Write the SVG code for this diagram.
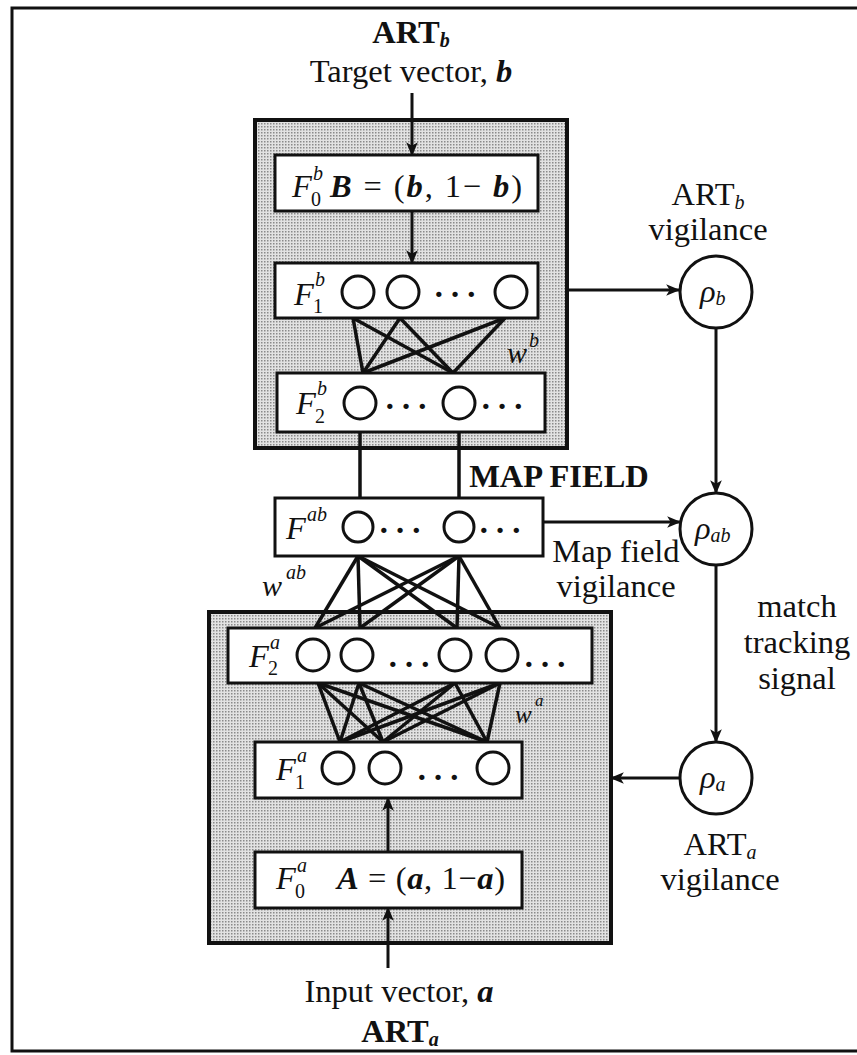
<svg xmlns="http://www.w3.org/2000/svg" width="857" height="1055" viewBox="0 0 857 1055">
<defs>
<marker id="ah" markerUnits="userSpaceOnUse" markerWidth="14" markerHeight="14" viewBox="0 0 12 12" refX="11" refY="6" orient="auto">
<path d="M0,1 L12,6 L0,11 L3,6 z" fill="#111"/>
</marker>
<pattern id="dots" width="3" height="3" patternUnits="userSpaceOnUse">
<rect width="3" height="3" fill="#e2e2e2"/>
<rect width="1.5" height="1.5" fill="#8a8a8a"/>
</pattern>
</defs>
<style>
text{font-family:"Liberation Serif","Times New Roman",serif;fill:#111;}
.t{font-size:32.5px;}
.b{font-weight:bold;}
.i{font-style:italic;}
.bi{font-style:italic;font-weight:bold;}
.s{font-size:20px;}
.box{fill:#fff;stroke:#111;stroke-width:3;}
.gray{fill:url(#dots);stroke:#111;stroke-width:4;}
.node{fill:#fff;stroke:#111;stroke-width:3;}
.con{stroke:#111;stroke-width:3.5;fill:none;}
.arr{stroke:#111;stroke-width:3;fill:none;marker-end:url(#ah);}
</style>
<rect x="0" y="0" width="857" height="1055" fill="#fff"/>
<path d="M857,8 H12 V1051 H857" fill="none" stroke="#111" stroke-width="3"/>

<g id="artb-module"><rect class="gray" x="255" y="120" width="312" height="328"/></g>
<g id="arta-module"><rect class="gray" x="209" y="612" width="402" height="331"/></g>

<g id="connectors">
<line class="arr" x1="412" y1="93" x2="412" y2="155"/>
<line class="arr" x1="412" y1="211" x2="412" y2="263"/>
<line class="arr" x1="567" y1="290" x2="679" y2="290"/>
<line class="arr" x1="716" y1="328" x2="716" y2="493"/>
<line class="arr" x1="543" y1="522" x2="680" y2="522"/>
<line class="arr" x1="716" y1="565" x2="716" y2="742"/>
<line class="arr" x1="680" y1="778" x2="611" y2="778"/>
<line class="arr" x1="388" y1="968" x2="388" y2="908"/>
<line class="arr" x1="388" y1="852" x2="388" y2="798"/>
<line class="con" x1="360" y1="432" x2="360" y2="498"/>
<line class="con" x1="459" y1="432" x2="459" y2="498"/>
<g id="wb">
<line class="con" x1="353" y1="318" x2="363" y2="373"/>
<line class="con" x1="353" y1="318" x2="453" y2="373"/>
<line class="con" x1="400" y1="318" x2="363" y2="373"/>
<line class="con" x1="400" y1="318" x2="453" y2="373"/>
<line class="con" x1="505" y1="318" x2="363" y2="373"/>
<line class="con" x1="505" y1="318" x2="453" y2="373"/>
</g>
<g id="wab">
<line class="con" x1="358" y1="556" x2="315" y2="628"/>
<line class="con" x1="358" y1="556" x2="360" y2="628"/>
<line class="con" x1="358" y1="556" x2="457" y2="628"/>
<line class="con" x1="358" y1="556" x2="500" y2="628"/>
<line class="con" x1="459" y1="556" x2="315" y2="628"/>
<line class="con" x1="459" y1="556" x2="360" y2="628"/>
<line class="con" x1="459" y1="556" x2="457" y2="628"/>
<line class="con" x1="459" y1="556" x2="500" y2="628"/>
</g>
<g id="wa">
<line class="con" x1="318" y1="683" x2="340" y2="742"/>
<line class="con" x1="318" y1="683" x2="383" y2="742"/>
<line class="con" x1="318" y1="683" x2="487" y2="742"/>
<line class="con" x1="359" y1="683" x2="340" y2="742"/>
<line class="con" x1="359" y1="683" x2="383" y2="742"/>
<line class="con" x1="359" y1="683" x2="487" y2="742"/>
<line class="con" x1="455" y1="683" x2="340" y2="742"/>
<line class="con" x1="455" y1="683" x2="383" y2="742"/>
<line class="con" x1="455" y1="683" x2="487" y2="742"/>
<line class="con" x1="500" y1="683" x2="340" y2="742"/>
<line class="con" x1="500" y1="683" x2="383" y2="742"/>
<line class="con" x1="500" y1="683" x2="487" y2="742"/>
</g>
</g>

<g id="labels">
<text class="t b" x="411" y="43" text-anchor="middle">ART<tspan class="s i" dy="4">b</tspan></text>
<text class="t" x="411" y="82" text-anchor="middle">Target vector, <tspan class="bi">b</tspan></text>
<text class="t" x="708" y="205" text-anchor="middle">ART<tspan class="s i" dy="4">b</tspan></text>
<text class="t" x="708" y="240" text-anchor="middle">vigilance</text>
<text class="t b" x="559" y="487" text-anchor="middle">MAP FIELD</text>
<text class="t" x="616" y="562" text-anchor="middle">Map field</text>
<text class="t" x="616" y="597" text-anchor="middle">vigilance</text>
<text class="t" x="797" y="617" text-anchor="middle">match</text>
<text class="t" x="797" y="653" text-anchor="middle">tracking</text>
<text class="t" x="797" y="689" text-anchor="middle">signal</text>
<text class="t" x="720" y="855" text-anchor="middle">ART<tspan class="s i" dy="4">a</tspan></text>
<text class="t" x="720" y="890" text-anchor="middle">vigilance</text>
<text class="t" x="399" y="1002" text-anchor="middle">Input vector, <tspan class="bi">a</tspan></text>
<text class="t b" x="400" y="1042" text-anchor="middle">ART<tspan class="s i" dy="4">a</tspan></text>
<text class="i" font-size="30" x="507" y="363">w</text><text class="i" font-size="20" x="529" y="347">b</text>
<text class="i" font-size="30" x="262" y="596">w</text><text class="i" font-size="20" x="286" y="579">ab</text>
<text class="i" font-size="25" x="515" y="723">w</text><text class="i" font-size="17" x="535" y="706">a</text>
</g>

<g id="F0b">
<rect class="box" x="275" y="155" width="263" height="56"/>
<text class="t i" x="292" y="197">F</text>
<text class="s i" x="313" y="180">b</text>
<text class="s" x="311" y="206">0</text>
<text class="t" x="330" y="197" textLength="192" lengthAdjust="spacing"><tspan class="bi">B</tspan> = (<tspan class="bi">b</tspan>, 1− <tspan class="bi">b</tspan>)</text>
</g>

<g id="F1b">
<rect class="box" x="275" y="263" width="263" height="55"/>
<text class="t i" x="294" y="305">F</text>
<text class="s i" x="315" y="286">b</text>
<text class="s" x="313" y="313">1</text>
<circle class="node" cx="358" cy="292" r="16"/>
<circle class="node" cx="403" cy="292" r="16"/>
<circle class="node" cx="511" cy="292" r="16"/>
<text class="t b" x="455" y="297" text-anchor="middle">. . .</text>
</g>

<g id="F2b">
<rect class="box" x="277" y="373" width="268" height="59"/>
<text class="t i" x="296" y="414">F</text>
<text class="s i" x="317" y="395">b</text>
<text class="s" x="315" y="423">2</text>
<circle class="node" cx="360" cy="403" r="16"/>
<circle class="node" cx="459" cy="403" r="16"/>
<text class="t b" x="406" y="409" text-anchor="middle">. . .</text>
<text class="t b" x="502" y="409" text-anchor="middle">. . .</text>
</g>

<g id="Fab">
<rect class="box" x="275" y="498" width="268" height="58"/>
<text class="t i" x="286" y="539">F</text>
<text class="s i" x="307" y="521">ab</text>
<circle class="node" cx="358" cy="527" r="15"/>
<circle class="node" cx="459" cy="527" r="15"/>
<text class="t b" x="400" y="533" text-anchor="middle">. . .</text>
<text class="t b" x="500" y="533" text-anchor="middle">. . .</text>
</g>

<g id="F2a">
<rect class="box" x="228" y="628" width="364" height="55"/>
<text class="t i" x="249" y="667">F</text>
<text class="s i" x="270" y="649">a</text>
<text class="s" x="268" y="675">2</text>
<circle class="node" cx="313" cy="655" r="16"/>
<circle class="node" cx="357" cy="655" r="16"/>
<circle class="node" cx="455" cy="655" r="16"/>
<circle class="node" cx="502" cy="655" r="16"/>
<text class="t b" x="409" y="667" text-anchor="middle">. . .</text>
<text class="t b" x="545" y="667" text-anchor="middle">. . .</text>
</g>

<g id="F1a">
<rect class="box" x="255" y="742" width="267" height="56"/>
<text class="t i" x="276" y="780">F</text>
<text class="s i" x="297" y="762">a</text>
<text class="s" x="295" y="789">1</text>
<circle class="node" cx="338" cy="768" r="16"/>
<circle class="node" cx="385" cy="768" r="16"/>
<circle class="node" cx="493" cy="768" r="16"/>
<text class="t b" x="438" y="780" text-anchor="middle">. . .</text>
</g>

<g id="F0a">
<rect class="box" x="255" y="852" width="267" height="56"/>
<text class="t i" x="276" y="889">F</text>
<text class="s i" x="297" y="872">a</text>
<text class="s" x="295" y="898">0</text>
<text class="t" x="337" y="889" textLength="168" lengthAdjust="spacing"><tspan class="bi">A</tspan> = (<tspan class="bi">a</tspan>, 1−<tspan class="bi">a</tspan>)</text>
</g>

<g id="rho-b">
<circle class="node" cx="716" cy="292" r="36"/>
<text class="t i" x="700" y="302">ρ<tspan class="s" dy="3">b</tspan></text>
</g>
<g id="rho-ab">
<circle class="node" cx="716" cy="529" r="36"/>
<text class="t i" x="695" y="539">ρ<tspan class="s" dy="3">ab</tspan></text>
</g>
<g id="rho-a">
<circle class="node" cx="716" cy="778" r="36"/>
<text class="t i" x="700" y="788">ρ<tspan class="s" dy="3">a</tspan></text>
</g>
</svg>
